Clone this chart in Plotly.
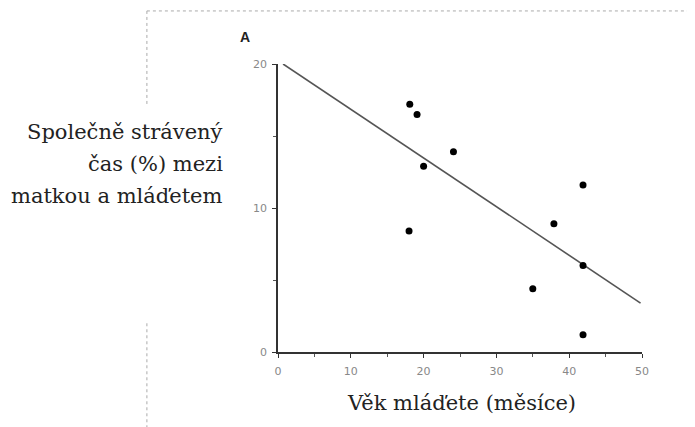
import plotly.graph_objects as go

# Data
age_months = [18.1, 19.1, 20.0, 24.1, 18.0, 37.9, 41.9, 41.9, 35.0, 41.9]
shared_time_pct = [17.2, 16.5, 12.9, 13.9, 8.4, 8.9, 11.6, 6.0, 4.4, 1.2]
fit_x = [0.7, 49.8]
fit_y = [20.0, 3.4]
x_ticks = [0, 10, 20, 30, 40, 50]
y_ticks = [0, 10, 20]

OFF = 8  # page body margin
W, H = 695 - OFF, 427 - OFF
L, R_EDGE, T, B_EDGE = 278 - OFF, 641.7 - OFF, 64 - OFF, 351.7 - OFF


def px(x):
    return (x - OFF - L) / (R_EDGE - L)


def py(y):
    return (B_EDGE - (y - OFF)) / (B_EDGE - T)


fig = go.Figure()
fig.add_trace(go.Scatter(x=fit_x, y=fit_y, mode="lines",
                         line=dict(color="#555555", width=1.6),
                         hoverinfo="skip", cliponaxis=False))
fig.add_trace(go.Scatter(x=age_months, y=shared_time_pct, mode="markers",
                         marker=dict(color="black", size=7), cliponaxis=False))

axis_common = dict(showgrid=False, zeroline=False, showline=True,
                   linecolor="#333333", linewidth=1.5, ticks="outside",
                   ticklen=4, tickcolor="#333333", tickwidth=1.2,
                   tickfont=dict(family="DejaVu Sans", size=11, color="#888888"),
                   minor=dict(ticks="outside", ticklen=3, tickcolor="#555555", dtick=5))
fig.update_xaxes(range=[0, 50], tickvals=x_ticks, ticklabelstandoff=4, **axis_common)
fig.update_yaxes(range=[0, 20], tickvals=y_ticks, ticklabelstandoff=3, **axis_common)

serif = dict(family="DejaVu Serif", size=21, color="#222222")
ann = []
for text, ypix in [("Společně strávený", 131.7), ("čas (%) mezi", 163.5), ("matkou a mláďetem", 196)]:
    ann.append(dict(text=text, x=px(225), y=py(ypix), xref="paper", yref="paper",
                    xanchor="right", yanchor="middle", showarrow=False, font=serif))
ann.append(dict(text="Věk mláďete (měsíce)", x=px(461), y=py(403), xref="paper", yref="paper",
                xanchor="center", yanchor="middle", showarrow=False, font=serif))
ann.append(dict(text="<b>A</b>", x=px(245), y=py(37), xref="paper", yref="paper",
                xanchor="center", yanchor="middle", showarrow=False,
                font=dict(family="Arial", size=14, color="#222222")))

dot = dict(color="#aaaaaa", width=1, dash="dot")
shapes = [
    dict(type="line", xref="paper", yref="paper", x0=px(147), x1=px(695), y0=py(11), y1=py(11), line=dot),
    dict(type="line", xref="paper", yref="paper", x0=px(147), x1=px(147), y0=py(11), y1=py(105), line=dot),
    dict(type="line", xref="paper", yref="paper", x0=px(147), x1=px(147), y0=py(323), y1=py(427), line=dot),
]

fig.update_layout(width=W, height=H, showlegend=False,
                  paper_bgcolor="white", plot_bgcolor="white",
                  margin=dict(l=L, r=W - R_EDGE, t=T, b=H - B_EDGE),
                  annotations=ann, shapes=shapes)

fig.write_html("out.html")
